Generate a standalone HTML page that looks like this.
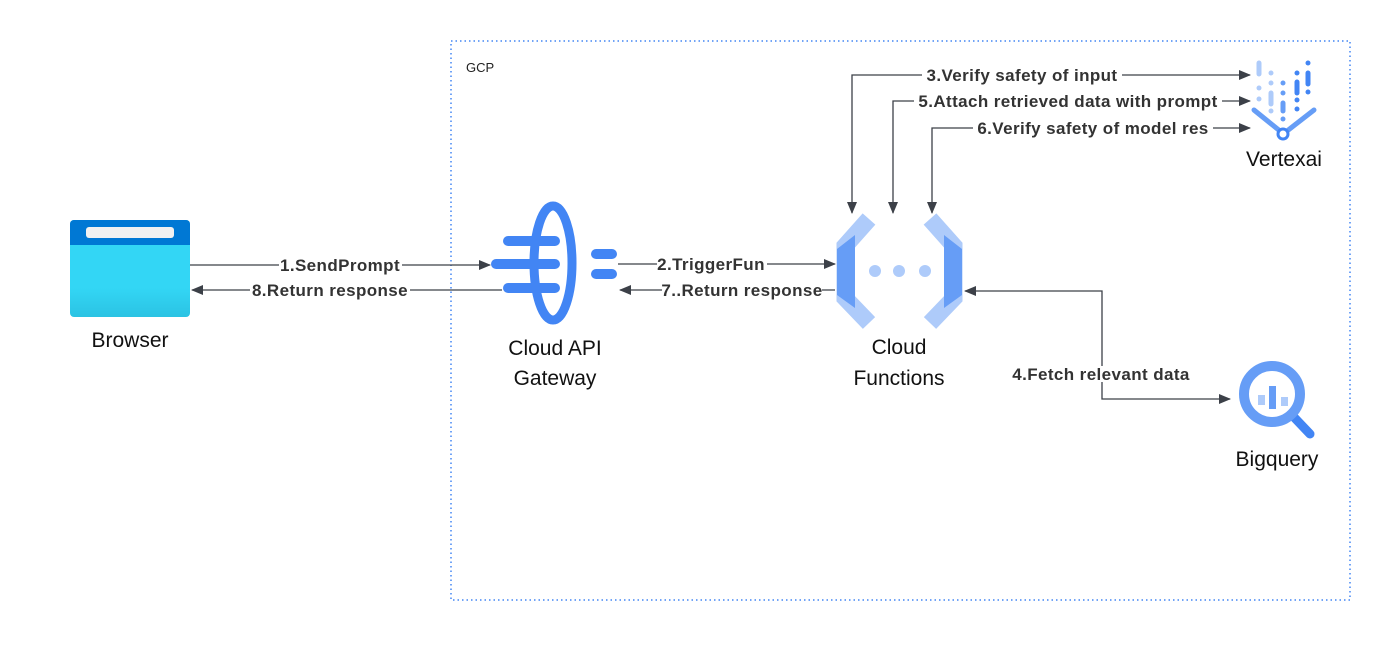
<!DOCTYPE html>
<html><head><meta charset="utf-8"><style>
body{margin:0;background:#fff;}
svg text{font-family:"Liberation Sans",sans-serif;}
.lbl{font-size:17px;font-weight:bold;fill:#333;letter-spacing:0.4px;}
.nm{font-size:21px;fill:#111;}
</style></head><body>
<svg width="1390" height="640" viewBox="0 0 1390 640" xmlns="http://www.w3.org/2000/svg">
<defs>
<marker id="a" markerWidth="12" markerHeight="10" refX="11" refY="5" orient="auto-start-reverse" markerUnits="userSpaceOnUse"><path d="M0,0 L12,5 L0,10 z" fill="#3c4048"/></marker>
<linearGradient id="bg" x1="0" y1="0" x2="0" y2="1"><stop offset="0.7" stop-color="#33d6f5"/><stop offset="1" stop-color="#2bc3e3"/></linearGradient>
</defs>
<rect x="451" y="41" width="899" height="559" fill="none" stroke="#4285f4" stroke-width="1.5" stroke-dasharray="1.5,3"/>
<text x="466" y="72" font-size="13" fill="#222">GCP</text>

<!-- Browser -->
<rect x="70" y="220" width="120" height="97" rx="4" fill="url(#bg)"/>
<path d="M74,220 H186 A4,4 0 0 1 190,224 V245 H70 V224 A4,4 0 0 1 74,220 z" fill="#0078d4"/>
<rect x="86" y="227" width="88" height="11" rx="3" fill="#f1f1f1"/>
<text class="nm" x="130" y="347" text-anchor="middle">Browser</text>

<!-- Gateway -->
<ellipse cx="553" cy="263" rx="19" ry="57" fill="none" stroke="#4285f4" stroke-width="9"/>
<g stroke="#4285f4" stroke-width="10" stroke-linecap="round">
<line x1="508" y1="241" x2="555" y2="241"/>
<line x1="496" y1="264" x2="555" y2="264"/>
<line x1="508" y1="288" x2="555" y2="288"/>
<line x1="596" y1="254" x2="612" y2="254"/>
<line x1="596" y1="274" x2="612" y2="274"/>
</g>
<text class="nm" x="555" y="355" text-anchor="middle">Cloud API</text>
<text class="nm" x="555" y="385" text-anchor="middle">Gateway</text>

<!-- Cloud Functions -->
<g fill="none" stroke="#aecbfa" stroke-width="17" stroke-linejoin="miter">
<polyline points="869,219 845,246 845,298 869,323"/>
<polyline points="930,219 954,246 954,298 930,323"/>
</g>
<polygon points="837,249 855,235 855,308 837,295" fill="#669df6"/>
<polygon points="962,249 944,235 944,308 962,295" fill="#669df6"/>
<circle cx="875" cy="271" r="6" fill="#aecbfa"/>
<circle cx="899" cy="271" r="6" fill="#aecbfa"/>
<circle cx="925" cy="271" r="6" fill="#aecbfa"/>
<text class="nm" x="899" y="354" text-anchor="middle">Cloud</text>
<text class="nm" x="899" y="385" text-anchor="middle">Functions</text>

<!-- Vertex -->
<g stroke-linecap="round" stroke-width="5">
<line x1="1259" y1="63" x2="1259" y2="74" stroke="#aecbfa"/>
<line x1="1259" y1="88" x2="1259" y2="88" stroke="#aecbfa"/>
<line x1="1259" y1="99" x2="1259" y2="99" stroke="#aecbfa"/>
<line x1="1271" y1="73" x2="1271" y2="73" stroke="#aecbfa"/>
<line x1="1271" y1="83" x2="1271" y2="83" stroke="#aecbfa"/>
<line x1="1271" y1="93" x2="1271" y2="104" stroke="#aecbfa"/>
<line x1="1271" y1="111" x2="1271" y2="111" stroke="#aecbfa"/>
<line x1="1283" y1="83" x2="1283" y2="83" stroke="#669df6"/>
<line x1="1283" y1="93" x2="1283" y2="93" stroke="#669df6"/>
<line x1="1283" y1="103" x2="1283" y2="111" stroke="#669df6"/>
<line x1="1283" y1="119" x2="1283" y2="119" stroke="#669df6"/>
<line x1="1297" y1="73" x2="1297" y2="73" stroke="#4285f4"/>
<line x1="1297" y1="82" x2="1297" y2="93" stroke="#4285f4"/>
<line x1="1297" y1="100" x2="1297" y2="100" stroke="#4285f4"/>
<line x1="1297" y1="109" x2="1297" y2="109" stroke="#4285f4"/>
<line x1="1308" y1="63" x2="1308" y2="63" stroke="#4285f4"/>
<line x1="1308" y1="73" x2="1308" y2="84" stroke="#4285f4"/>
<line x1="1308" y1="92" x2="1308" y2="92" stroke="#4285f4"/>
<line x1="1254" y1="110" x2="1280" y2="131" stroke="#669df6"/>
<line x1="1287" y1="131" x2="1314" y2="110" stroke="#669df6"/>
</g>
<circle cx="1283" cy="134" r="5" fill="#fff" stroke="#4285f4" stroke-width="3"/>
<text class="nm" x="1284" y="166" text-anchor="middle">Vertexai</text>

<!-- Bigquery -->
<line x1="1290" y1="413" x2="1310" y2="434" stroke="#4285f4" stroke-width="9" stroke-linecap="round"/>
<circle cx="1272" cy="394" r="28" fill="#fff" stroke="#669df6" stroke-width="10"/>
<rect x="1258" y="395" width="7" height="10" fill="#aecbfa"/>
<rect x="1269" y="386" width="7" height="23" fill="#669df6"/>
<rect x="1281" y="397" width="7" height="9" fill="#aecbfa"/>
<text class="nm" x="1277" y="466" text-anchor="middle">Bigquery</text>

<!-- connectors -->
<g stroke="#3c4048" stroke-width="1.3" fill="none">
<line x1="190" y1="265" x2="490" y2="265" marker-end="url(#a)"/>
<line x1="502" y1="290" x2="192" y2="290" marker-end="url(#a)"/>
<line x1="618" y1="264" x2="835" y2="264" marker-end="url(#a)"/>
<line x1="835" y1="290" x2="620" y2="290" marker-end="url(#a)"/>
<polyline points="1250,75 852,75 852,213" marker-start="url(#a)" marker-end="url(#a)"/>
<polyline points="1250,101 893,101 893,213" marker-start="url(#a)" marker-end="url(#a)"/>
<polyline points="1250,128 932,128 932,213" marker-start="url(#a)" marker-end="url(#a)"/>
<polyline points="1230,399 1102,399 1102,291 965,291" marker-start="url(#a)" marker-end="url(#a)"/>
</g>
<g class="lbl" text-anchor="middle">
<rect x="279" y="257" width="123" height="16" fill="#fff"/><text x="340" y="271">1.SendPrompt</text>
<rect x="250" y="282" width="160" height="16" fill="#fff"/><text x="330" y="296">8.Return response</text>
<rect x="657" y="256" width="110" height="16" fill="#fff"/><text x="711" y="270">2.TriggerFun</text>
<rect x="662" y="282" width="160" height="16" fill="#fff"/><text x="742" y="296">7..Return response</text>
<rect x="922" y="67" width="200" height="16" fill="#fff"/><text x="1022" y="81">3.Verify safety of input</text>
<rect x="914" y="93" width="308" height="16" fill="#fff"/><text x="1068" y="107">5.Attach retrieved data with prompt</text>
<rect x="973" y="120" width="240" height="16" fill="#fff"/><text x="1093" y="134">6.Verify safety of model res</text>
<rect x="1010" y="366" width="184" height="16" fill="#fff"/><text x="1101" y="380">4.Fetch relevant data</text>
</g>
</svg>
</body></html>
